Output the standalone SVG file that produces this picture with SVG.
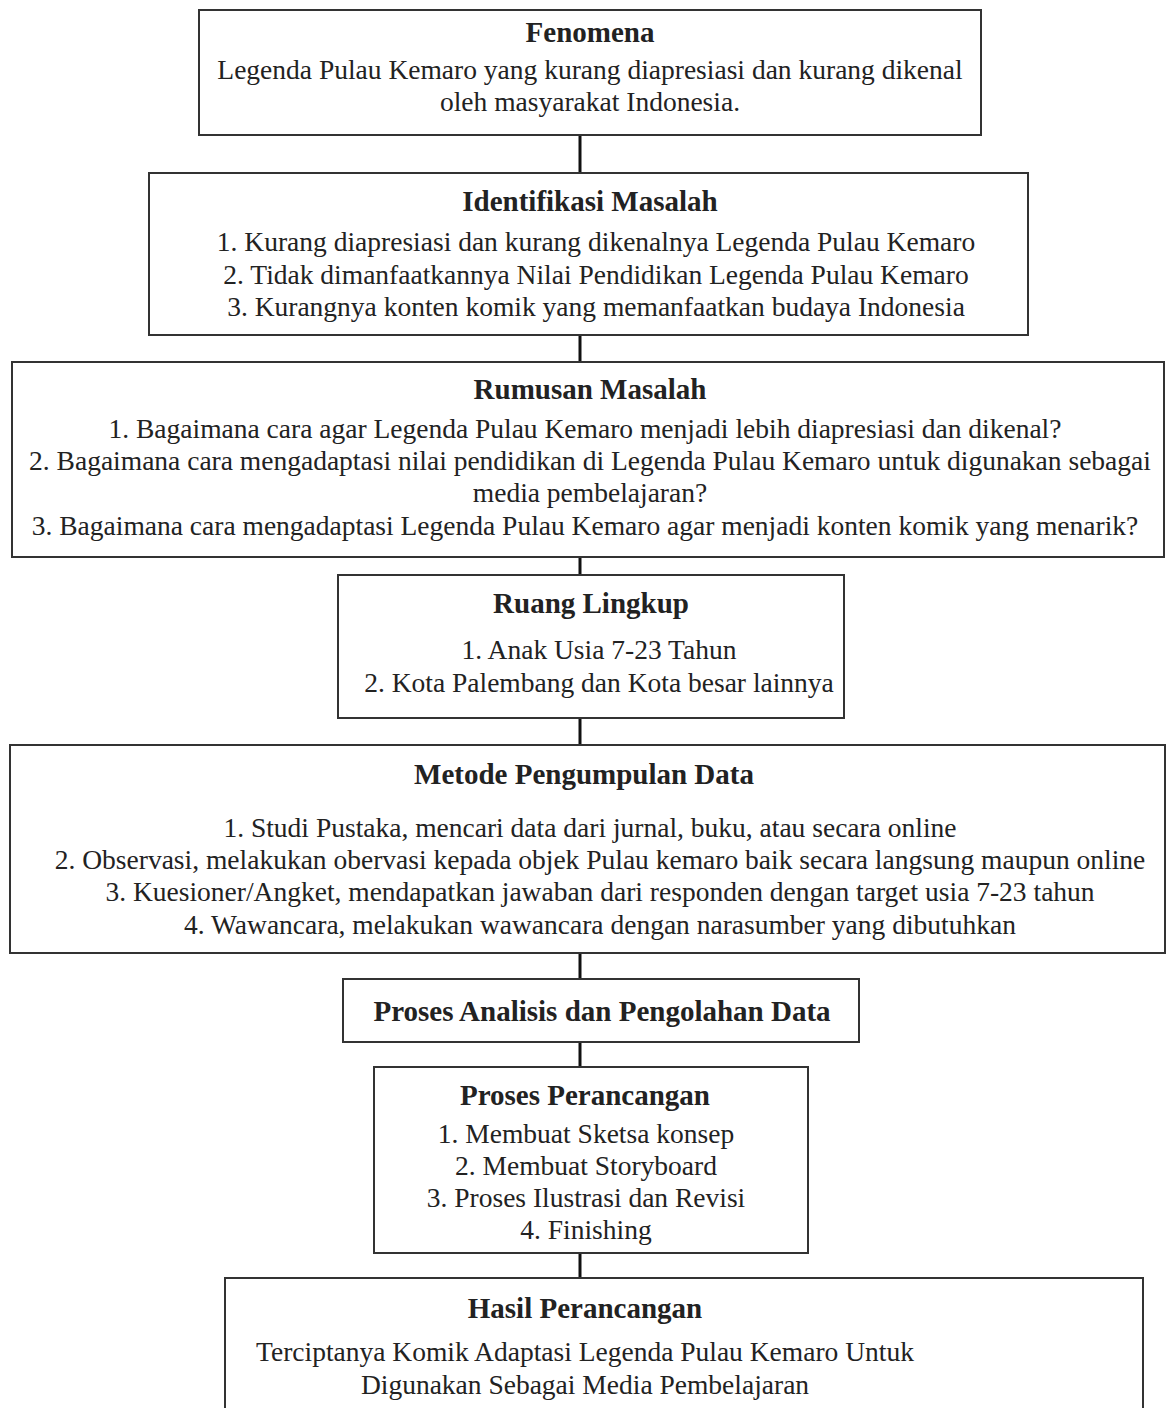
<svg xmlns="http://www.w3.org/2000/svg" width="1166" height="1408" viewBox="0 0 1166 1408">
<style>
.box{fill:#fff;stroke:#333;stroke-width:2}
.t{font-family:"Liberation Serif","Times New Roman",serif;font-size:27.5px;fill:#222;text-anchor:middle}
.b{font-weight:bold;font-size:29px}
.c{stroke:#111;stroke-width:3;fill:none}
</style>
<rect width="1166" height="1408" fill="#fff"/>
<g id="connectors">
<line class="c" x1="580" y1="135" x2="580" y2="173"/>
<line class="c" x1="580" y1="335" x2="580" y2="362"/>
<line class="c" x1="580" y1="557" x2="580" y2="575"/>
<line class="c" x1="580" y1="718" x2="580" y2="745"/>
<line class="c" x1="580" y1="953" x2="580" y2="979"/>
<line class="c" x1="580" y1="1042" x2="580" y2="1067"/>
<line class="c" x1="580" y1="1253" x2="580" y2="1278"/>
</g>
<g id="fenomena">
<rect class="box" x="199" y="10" width="782" height="125"/>
<text class="t b" x="590" y="42">Fenomena</text>
<text class="t" x="590" y="79">Legenda Pulau Kemaro yang kurang diapresiasi dan kurang dikenal</text>
<text class="t" x="590" y="111">oleh masyarakat Indonesia.</text>
</g>
<g id="identifikasi">
<rect class="box" x="149" y="173" width="879" height="162"/>
<text class="t b" x="590" y="211">Identifikasi Masalah</text>
<text class="t" x="596" y="251">1. Kurang diapresiasi dan kurang dikenalnya Legenda Pulau Kemaro</text>
<text class="t" x="596" y="284">2. Tidak dimanfaatkannya Nilai Pendidikan Legenda Pulau Kemaro</text>
<text class="t" x="596" y="316">3. Kurangnya konten komik yang memanfaatkan budaya Indonesia</text>
</g>
<g id="rumusan">
<rect class="box" x="12" y="362" width="1152" height="195"/>
<text class="t b" x="590" y="399">Rumusan Masalah</text>
<text class="t" x="585" y="438">1. Bagaimana cara agar Legenda Pulau Kemaro menjadi lebih diapresiasi dan dikenal?</text>
<text class="t" x="590" y="470">2. Bagaimana cara mengadaptasi nilai pendidikan di Legenda Pulau Kemaro untuk digunakan sebagai</text>
<text class="t" x="590" y="502">media pembelajaran?</text>
<text class="t" x="585" y="535">3. Bagaimana cara mengadaptasi Legenda Pulau Kemaro agar menjadi konten komik yang menarik?</text>
</g>
<g id="ruang">
<rect class="box" x="338" y="575" width="506" height="143"/>
<text class="t b" x="591" y="613">Ruang Lingkup</text>
<text class="t" x="599" y="659">1. Anak Usia 7-23 Tahun</text>
<text class="t" x="599" y="692">2. Kota Palembang dan Kota besar lainnya</text>
</g>
<g id="metode">
<rect class="box" x="10" y="745" width="1155" height="208"/>
<text class="t b" x="584" y="784">Metode Pengumpulan Data</text>
<text class="t" x="590" y="837">1. Studi Pustaka, mencari data dari jurnal, buku, atau secara online</text>
<text class="t" x="600" y="869">2. Observasi, melakukan obervasi kepada objek Pulau kemaro baik secara langsung maupun online</text>
<text class="t" x="600" y="901">3. Kuesioner/Angket, mendapatkan jawaban dari responden dengan target usia 7-23 tahun</text>
<text class="t" x="600" y="934">4. Wawancara, melakukan wawancara dengan narasumber yang dibutuhkan</text>
</g>
<g id="analisis">
<rect class="box" x="343" y="979" width="516" height="63"/>
<text class="t b" x="602" y="1021">Proses Analisis dan Pengolahan Data</text>
</g>
<g id="perancangan">
<rect class="box" x="374" y="1067" width="434" height="186"/>
<text class="t b" x="585" y="1105">Proses Perancangan</text>
<text class="t" x="586" y="1143">1. Membuat Sketsa konsep</text>
<text class="t" x="586" y="1175">2. Membuat Storyboard</text>
<text class="t" x="586" y="1207">3. Proses Ilustrasi dan Revisi</text>
<text class="t" x="586" y="1239">4. Finishing</text>
</g>
<g id="hasil">
<rect class="box" x="225" y="1278" width="918" height="140"/>
<text class="t b" x="585" y="1318">Hasil Perancangan</text>
<text class="t" x="585" y="1361">Terciptanya Komik Adaptasi Legenda Pulau Kemaro Untuk</text>
<text class="t" x="585" y="1394">Digunakan Sebagai Media Pembelajaran</text>
</g>
</svg>
